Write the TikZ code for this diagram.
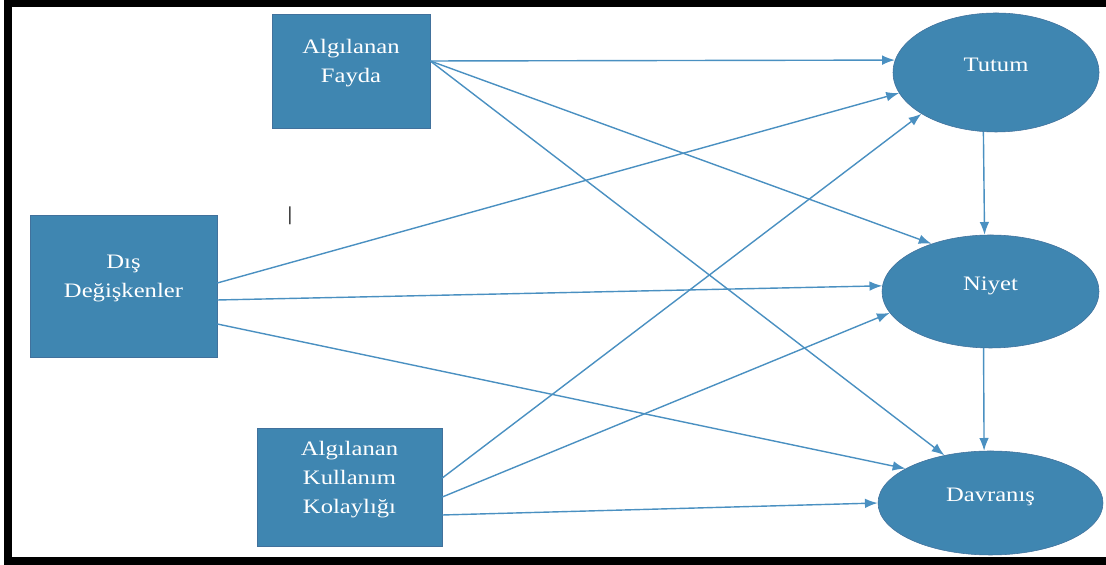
\documentclass[tikz,border=0pt]{standalone}
\usepackage{fontspec}
\setmainfont{Liberation Serif}[FakeStretch=1.2]
\usetikzlibrary{shapes.geometric,arrows.meta}

\definecolor{kutumavi}{RGB}{63,134,177}
\definecolor{kenarmavi}{RGB}{65,113,156}
\definecolor{okmavi}{RGB}{74,144,193}

\begin{document}
\begin{tikzpicture}[
  kutu/.style={draw=kenarmavi, fill=kutumavi, text=white, align=center, inner sep=0pt,
    font=\fontsize{14.6}{20.6}\selectfont, text depth=0.5cm},
  elips/.style={ellipse, draw=kenarmavi, fill=kutumavi, text=white, inner sep=0pt,
    font=\fontsize{14.6}{20.6}\selectfont, text depth=0.4cm},
  ok/.style={draw=okmavi, line width=1pt, -{Latex[length=0.32cm,width=0.24cm]}}
]

\useasboundingbox (0,0) rectangle (27.65,14.125);
\fill[black] (0.1,13.95) rectangle (27.65,14.125);
\fill[black] (0.1,0) rectangle (0.3,14.125);
\fill[black] (0.1,0) rectangle (27.65,0.2);

\node[kutu, minimum width=3.95cm, minimum height=2.85cm] (fayda) at (8.775,12.35) {Algılanan\\Fayda};
\node[kutu, minimum width=4.675cm, minimum height=3.55cm] (dis) at (3.0875,6.975) {Dış\\Değişkenler};
\node[kutu, minimum width=4.625cm, minimum height=2.95cm] (kolay) at (8.7375,1.95) {Algılanan\\Kullanım\\Kolaylığı};

\node[elips, minimum width=5.15cm, minimum height=2.975cm] (tutum) at (24.9,12.3125) {Tutum};
\node[elips, minimum width=5.425cm, minimum height=2.825cm] (niyet) at (24.7625,6.8375) {Niyet};
\node[elips, minimum width=5.625cm, minimum height=2.6cm] (davranis) at (24.7625,1.55) {Davranış};

\node[font=\fontsize{14}{14}\selectfont] (imlec) at (7.25,8.725) {|};

\draw[ok] ([yshift=0.25cm]fayda.east) -- (tutum.173);
\draw[ok] ([yshift=0.25cm]fayda.east) -- (niyet.141);
\draw[ok] ([yshift=0.25cm]fayda.east) -- (davranis.134);

\draw[ok] ([yshift=0.075cm]dis.east) -- (tutum.192);
\draw[ok] ([yshift=-0.35cm]dis.east) -- (niyet.177);
\draw[ok] ([yshift=-0.95cm]dis.east) -- (davranis.158);

\draw[ok] ([yshift=0.225cm]kolay.east) -- (tutum.209);
\draw[ok] ([yshift=-0.25cm]kolay.east) -- (niyet.192);
\draw[ok] ([yshift=-0.7cm]kolay.east) -- (davranis.180);

\draw[ok] (tutum.258) -- (niyet.96);
\draw[ok] (niyet.263) -- (davranis.97);

\end{tikzpicture}
\end{document}
